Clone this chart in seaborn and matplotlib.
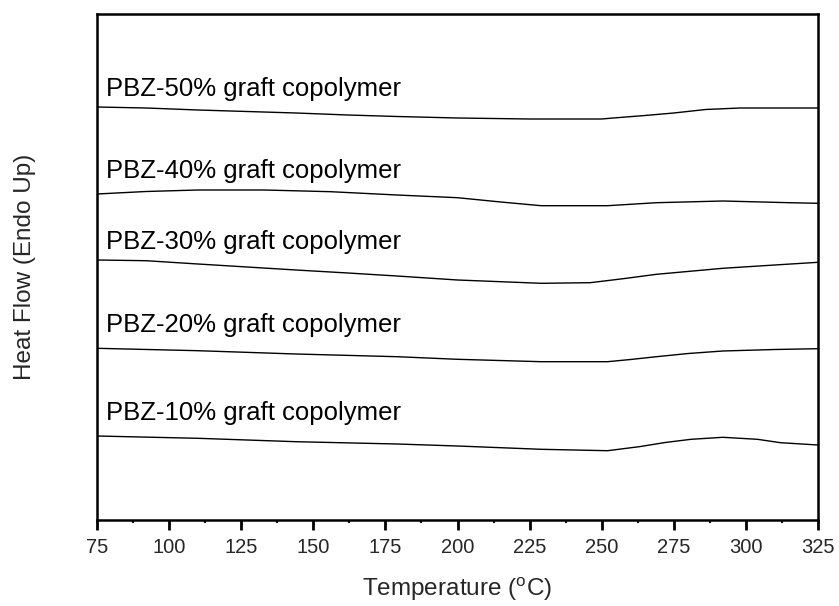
import numpy as np
import pandas as pd
import matplotlib
matplotlib.use("Agg")
import matplotlib.pyplot as plt
import seaborn as sns

# Temperature (°C) sample points and heat-flow traces (arbitrary units)
temp_50 = [75, 92, 110, 127, 144, 162, 179, 200, 225, 250, 254, 265, 275, 286, 298, 310, 325]
hf_50 = [413, 412, 410, 408.5, 407, 405, 403.5, 402, 401, 401, 402, 404.5, 407, 410.5, 412, 412, 412]

temp_40 = [75, 92, 110, 133, 156, 179, 200, 215, 229, 252, 269, 292, 315, 325]
hf_40 = [326, 328.5, 330, 330, 328.3, 325, 322.3, 318, 314.3, 314.3, 317.3, 319, 317.3, 316.7]

temp_30 = [75, 92, 110, 127, 144, 162, 179, 200, 229, 246, 258, 269, 292, 310, 325]
hf_30 = [260, 259.3, 256, 253, 250, 247, 244, 240, 236.7, 237.3, 241.5, 245.7, 251.7, 255, 257.7]

temp_20 = [75, 110, 144, 179, 200, 229, 252, 260, 269, 280, 292, 310, 325]
hf_20 = [171.7, 169.3, 166, 163.3, 160.7, 158.3, 158.3, 160.5, 163.3, 166.5, 169, 170.5, 171.3]

temp_10 = [75, 110, 144, 179, 200, 229, 252, 263, 272, 281, 292, 304, 312, 325]
hf_10 = [84, 81.7, 78.3, 76, 74, 70.7, 69.3, 73.3, 77.5, 80.7, 82.7, 80.7, 77.3, 75]

labels = ["PBZ-50% graft copolymer", "PBZ-40% graft copolymer", "PBZ-30% graft copolymer",
          "PBZ-20% graft copolymer", "PBZ-10% graft copolymer"]
label_y = [431, 349, 278, 195, 107]

xticks = [75, 100, 125, 150, 175, 200, 225, 250, 275, 300, 325]

sns.set_theme(style="white")
plt.rcParams['font.family'] = ['Liberation Sans', 'DejaVu Sans']
plt.rcParams['mathtext.fontset'] = 'custom'
plt.rcParams['mathtext.rm'] = 'Liberation Sans'

frames = []
for name, t, h in zip(labels, [temp_50, temp_40, temp_30, temp_20, temp_10],
                      [hf_50, hf_40, hf_30, hf_20, hf_10]):
    frames.append(pd.DataFrame({"T": t, "HF": h, "series": name}))
df = pd.concat(frames, ignore_index=True)

fig = plt.figure(figsize=(8.39, 6.06), dpi=100)
ax = fig.add_axes([97/839, 86/606, 721/839, 506/606])

sns.lineplot(data=df, x="T", y="HF", units="series", estimator=None, color="black",
             linewidth=1.0, ax=ax, legend=False, sort=True)

for lab, y in zip(labels, label_y):
    ax.text(78.0, y, lab, fontsize=18.5, va="center", ha="left", color="black")

ax.set_xlim(75, 325)
ax.set_ylim(0, 506)
ax.set_xticks(xticks)
ax.set_xticks(np.arange(87.5, 325, 25), minor=True)
ax.set_yticks([])
ax.tick_params(axis="x", which="major", direction="out", length=7, width=2, labelsize=14.5,
               pad=6, bottom=True, top=False, color="black")
ax.tick_params(axis="x", which="minor", direction="out", length=2, width=1.5, bottom=True, color="black")
for s in ax.spines.values():
    s.set_color("black")
    s.set_linewidth(1.8)

ax.set_xlabel("Temperature ($^{\\mathrm{o}}$C)", fontsize=17.5, labelpad=13)
ax.set_ylabel("Heat Flow (Endo Up)", fontsize=17.5, labelpad=44)

fig.savefig("out.png", dpi=100)
